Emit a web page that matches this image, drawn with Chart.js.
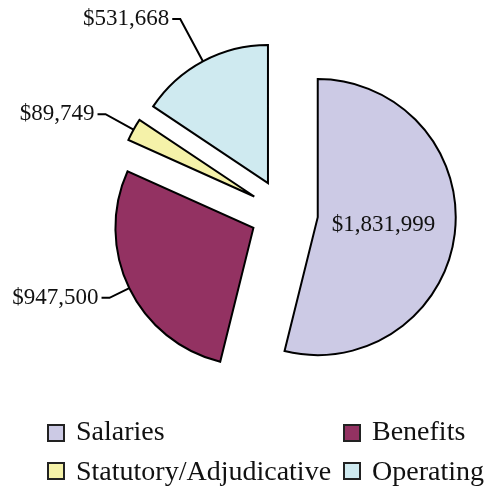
<!DOCTYPE html>
<html>

<head>
  <title>Budget Breakdown</title>
  <script src="https://cdn.jsdelivr.net/npm/chart.js"></script>
  <style>
    body { margin: 0; background: #fff; }
  </style>
</head>

<body>
  <canvas id="pie" width="489" height="488"></canvas>
  <script>
    const labels = ['Salaries', 'Benefits', 'Statutory/Adjudicative', 'Operating'];
    const amounts = [1831999, 947500, 89749, 531668];
    const colors = ['#CCCAE5', '#933262', '#F5F2A9', '#CFEAF0'];
    // radial length of each leader line, 0 means the label sits inside the slice
    const leaderLen = [0, 22, 32, 48];

    const shift = 34; // how far every slice is pulled out from the centre
    const serif = '"Liberation Serif", "Times New Roman", serif';

    // move each arc out along its bisector (chart.js' own offset also grows the radius)
    const explode = {
      id: 'explode',
      afterDatasetUpdate(chart, args) {
        args.meta.data.forEach(arc => {
          const mid = (arc.startAngle + arc.endAngle) / 2;
          arc.x += Math.cos(mid) * shift;
          arc.y += Math.sin(mid) * shift;
        });
      }
    };

    const valueLabels = {
      id: 'valueLabels',
      afterDatasetsDraw(chart) {
        const ctx = chart.ctx;
        const meta = chart.getDatasetMeta(0);
        ctx.save();
        ctx.font = '23px ' + serif;
        ctx.fillStyle = '#111';
        ctx.strokeStyle = '#000';
        ctx.lineWidth = 2;
        ctx.textBaseline = 'middle';
        meta.data.forEach((arc, i) => {
          const p = arc.getProps(['x', 'y', 'startAngle', 'endAngle', 'outerRadius'], true);
          const mid = (p.startAngle + p.endAngle) / 2;
          const cos = Math.cos(mid), sin = Math.sin(mid);
          const text = '$' + amounts[i].toLocaleString('en-US');
          if (!leaderLen[i]) {
            ctx.textAlign = 'center';
            ctx.fillText(text, p.x + cos * p.outerRadius * 0.48, p.y + sin * p.outerRadius * 0.48);
            return;
          }
          const ax = p.x + cos * p.outerRadius, ay = p.y + sin * p.outerRadius;
          const ex = ax + cos * leaderLen[i], ey = ay + sin * leaderLen[i];
          const side = cos < 0 ? -1 : 1;
          ctx.beginPath();
          ctx.moveTo(ax, ay);
          ctx.lineTo(ex, ey);
          ctx.lineTo(ex + side * 8, ey);
          ctx.stroke();
          ctx.textAlign = side < 0 ? 'right' : 'left';
          ctx.fillText(text, ex + side * 11, ey);
        });
        ctx.restore();
      }
    };

    // two column legend under the pie
    const gridLegend = {
      id: 'gridLegend',
      afterDraw(chart) {
        const ctx = chart.ctx;
        ctx.save();
        ctx.font = '28px ' + serif;
        ctx.textAlign = 'left';
        ctx.textBaseline = 'alphabetic';
        labels.forEach((name, i) => {
          const x = 47 + (i % 2) * 296;
          const y = 424 + Math.floor(i / 2) * 38;
          ctx.fillStyle = colors[i];
          ctx.fillRect(x, y, 18, 18);
          ctx.strokeStyle = '#222';
          ctx.lineWidth = 2;
          ctx.strokeRect(x + 1, y + 1, 16, 16);
          ctx.fillStyle = '#111';
          ctx.fillText(name, x + 29, y + 16 + Math.floor(i / 2) * 2);
        });
        ctx.restore();
      }
    };

    var ctx = document.getElementById('pie').getContext('2d');
    var chart = new Chart(ctx, {
      type: 'pie',
      data: {
        labels: labels,
        datasets: [{
          data: amounts,
          backgroundColor: colors,
          borderColor: '#000',
          borderWidth: 2,
          borderJoinStyle: 'miter',
          radius: 138,
          clip: false
        }]
      },
      options: {
        responsive: false,
        animation: false,
        events: [],
        layout: { padding: { left: 79, right: 0, top: 26, bottom: 88 } },
        plugins: {
          legend: { display: false },
          tooltip: { enabled: false }
        }
      },
      plugins: [explode, valueLabels, gridLegend]
    });
  </script>
</body>

</html>
